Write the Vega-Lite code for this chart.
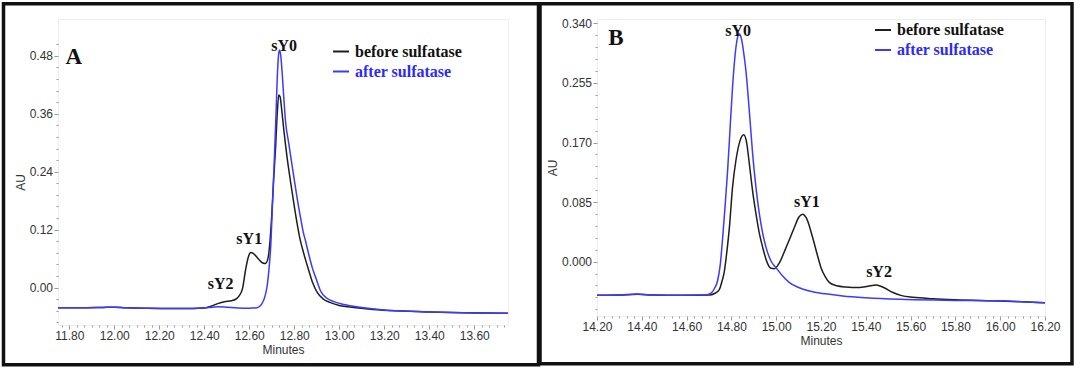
{
  "$schema": "https://vega.github.io/schema/vega-lite/v6.json",
  "background": "white",
  "padding": {"left": 1, "top": 1, "right": 2, "bottom": 2},
  "datasets": {
    "A": [
      {"series":"before sulfatase","t":11.75,"au":-0.0415},{"series":"before sulfatase","t":11.85,"au":-0.0418},{"series":"before sulfatase","t":11.95,"au":-0.0410},{"series":"before sulfatase","t":12.00,"au":-0.0405},{"series":"before sulfatase","t":12.05,"au":-0.0415},{"series":"before sulfatase","t":12.15,"au":-0.0425},{"series":"before sulfatase","t":12.25,"au":-0.0430},{"series":"before sulfatase","t":12.35,"au":-0.0430},{"series":"before sulfatase","t":12.40,"au":-0.0420},{"series":"before sulfatase","t":12.43,"au":-0.0385},{"series":"before sulfatase","t":12.46,"au":-0.0330},{"series":"before sulfatase","t":12.49,"au":-0.0290},{"series":"before sulfatase","t":12.52,"au":-0.0270},{"series":"before sulfatase","t":12.54,"au":-0.0240},{"series":"before sulfatase","t":12.555,"au":-0.0170},{"series":"before sulfatase","t":12.57,"au":-0.0020},{"series":"before sulfatase","t":12.583,"au":0.0350},{"series":"before sulfatase","t":12.595,"au":0.0620},{"series":"before sulfatase","t":12.607,"au":0.0726},{"series":"before sulfatase","t":12.62,"au":0.0700},{"series":"before sulfatase","t":12.64,"au":0.0600},{"series":"before sulfatase","t":12.66,"au":0.0510},{"series":"before sulfatase","t":12.672,"au":0.0500},{"series":"before sulfatase","t":12.683,"au":0.0600},{"series":"before sulfatase","t":12.692,"au":0.0950},{"series":"before sulfatase","t":12.70,"au":0.1500},{"series":"before sulfatase","t":12.708,"au":0.2200},{"series":"before sulfatase","t":12.717,"au":0.2900},{"series":"before sulfatase","t":12.725,"au":0.3650},{"series":"before sulfatase","t":12.731,"au":0.3990},{"series":"before sulfatase","t":12.737,"au":0.3950},{"series":"before sulfatase","t":12.745,"au":0.3650},{"series":"before sulfatase","t":12.754,"au":0.3250},{"series":"before sulfatase","t":12.768,"au":0.2700},{"series":"before sulfatase","t":12.783,"au":0.2210},{"series":"before sulfatase","t":12.798,"au":0.1750},{"series":"before sulfatase","t":12.813,"au":0.1320},{"series":"before sulfatase","t":12.825,"au":0.1020},{"series":"before sulfatase","t":12.835,"au":0.0830},{"series":"before sulfatase","t":12.85,"au":0.0580},{"series":"before sulfatase","t":12.865,"au":0.0350},{"series":"before sulfatase","t":12.882,"au":0.0100},{"series":"before sulfatase","t":12.902,"au":-0.0100},{"series":"before sulfatase","t":12.93,"au":-0.0240},{"series":"before sulfatase","t":12.961,"au":-0.0310},{"series":"before sulfatase","t":13.00,"au":-0.0370},{"series":"before sulfatase","t":13.065,"au":-0.0410},{"series":"before sulfatase","t":13.15,"au":-0.0450},{"series":"before sulfatase","t":13.25,"au":-0.0480},{"series":"before sulfatase","t":13.40,"au":-0.0505},{"series":"before sulfatase","t":13.55,"au":-0.0520},{"series":"before sulfatase","t":13.75,"au":-0.0530},
      {"series":"after sulfatase","t":11.75,"au":-0.0415},{"series":"after sulfatase","t":11.85,"au":-0.0418},{"series":"after sulfatase","t":11.95,"au":-0.0410},{"series":"after sulfatase","t":12.00,"au":-0.0405},{"series":"after sulfatase","t":12.05,"au":-0.0415},{"series":"after sulfatase","t":12.15,"au":-0.0425},{"series":"after sulfatase","t":12.25,"au":-0.0430},{"series":"after sulfatase","t":12.35,"au":-0.0430},{"series":"after sulfatase","t":12.42,"au":-0.0410},{"series":"after sulfatase","t":12.46,"au":-0.0395},{"series":"after sulfatase","t":12.50,"au":-0.0405},{"series":"after sulfatase","t":12.55,"au":-0.0420},{"series":"after sulfatase","t":12.60,"au":-0.0425},{"series":"after sulfatase","t":12.635,"au":-0.0415},{"series":"after sulfatase","t":12.655,"au":-0.0340},{"series":"after sulfatase","t":12.67,"au":-0.0180},{"series":"after sulfatase","t":12.68,"au":0.0050},{"series":"after sulfatase","t":12.688,"au":0.0400},{"series":"after sulfatase","t":12.696,"au":0.0900},{"series":"after sulfatase","t":12.703,"au":0.1700},{"series":"after sulfatase","t":12.711,"au":0.2600},{"series":"after sulfatase","t":12.719,"au":0.3600},{"series":"after sulfatase","t":12.726,"au":0.4500},{"series":"after sulfatase","t":12.731,"au":0.4850},{"series":"after sulfatase","t":12.735,"au":0.4920},{"series":"after sulfatase","t":12.740,"au":0.4800},{"series":"after sulfatase","t":12.747,"au":0.4400},{"series":"after sulfatase","t":12.754,"au":0.3900},{"series":"after sulfatase","t":12.761,"au":0.3456},{"series":"after sulfatase","t":12.775,"au":0.3000},{"series":"after sulfatase","t":12.798,"au":0.2300},{"series":"after sulfatase","t":12.813,"au":0.1850},{"series":"after sulfatase","t":12.828,"au":0.1450},{"series":"after sulfatase","t":12.84,"au":0.1150},{"series":"after sulfatase","t":12.85,"au":0.0970},{"series":"after sulfatase","t":12.865,"au":0.0680},{"series":"after sulfatase","t":12.88,"au":0.0415},{"series":"after sulfatase","t":12.90,"au":0.0150},{"series":"after sulfatase","t":12.917,"au":-0.0070},{"series":"after sulfatase","t":12.945,"au":-0.0220},{"series":"after sulfatase","t":12.976,"au":-0.0290},{"series":"after sulfatase","t":13.02,"au":-0.0350},{"series":"after sulfatase","t":13.10,"au":-0.0410},{"series":"after sulfatase","t":13.20,"au":-0.0460},{"series":"after sulfatase","t":13.35,"au":-0.0495},{"series":"after sulfatase","t":13.50,"au":-0.0515},{"series":"after sulfatase","t":13.75,"au":-0.0530}
    ],
    "B": [
      {"series":"before sulfatase","t":14.20,"au":-0.0480},{"series":"before sulfatase","t":14.30,"au":-0.0478},{"series":"before sulfatase","t":14.38,"au":-0.0466},{"series":"before sulfatase","t":14.45,"au":-0.0478},{"series":"before sulfatase","t":14.55,"au":-0.0480},{"series":"before sulfatase","t":14.65,"au":-0.0480},{"series":"before sulfatase","t":14.70,"au":-0.0478},{"series":"before sulfatase","t":14.725,"au":-0.0455},{"series":"before sulfatase","t":14.746,"au":-0.0400},{"series":"before sulfatase","t":14.758,"au":-0.0280},{"series":"before sulfatase","t":14.768,"au":-0.0150},{"series":"before sulfatase","t":14.78,"au":0.0150},{"series":"before sulfatase","t":14.791,"au":0.0486},{"series":"before sulfatase","t":14.805,"au":0.1060},{"series":"before sulfatase","t":14.82,"au":0.1440},{"series":"before sulfatase","t":14.838,"au":0.1720},{"series":"before sulfatase","t":14.855,"au":0.1810},{"series":"before sulfatase","t":14.868,"au":0.1700},{"series":"before sulfatase","t":14.88,"au":0.1400},{"series":"before sulfatase","t":14.895,"au":0.1000},{"series":"before sulfatase","t":14.91,"au":0.0677},{"series":"before sulfatase","t":14.925,"au":0.0400},{"series":"before sulfatase","t":14.94,"au":0.0200},{"series":"before sulfatase","t":14.958,"au":0.0000},{"series":"before sulfatase","t":14.977,"au":-0.0095},{"series":"before sulfatase","t":14.992,"au":-0.0100},{"series":"before sulfatase","t":15.01,"au":-0.0040},{"series":"before sulfatase","t":15.044,"au":0.0200},{"series":"before sulfatase","t":15.081,"au":0.0486},{"series":"before sulfatase","t":15.10,"au":0.0630},{"series":"before sulfatase","t":15.118,"au":0.0677},{"series":"before sulfatase","t":15.135,"au":0.0620},{"series":"before sulfatase","t":15.163,"au":0.0340},{"series":"before sulfatase","t":15.185,"au":0.0080},{"series":"before sulfatase","t":15.20,"au":-0.0086},{"series":"before sulfatase","t":15.22,"au":-0.0220},{"series":"before sulfatase","t":15.238,"au":-0.0300},{"series":"before sulfatase","t":15.27,"au":-0.0345},{"series":"before sulfatase","t":15.31,"au":-0.0362},{"series":"before sulfatase","t":15.372,"au":-0.0370},{"series":"before sulfatase","t":15.41,"au":-0.0350},{"series":"before sulfatase","t":15.447,"au":-0.0333},{"series":"before sulfatase","t":15.48,"au":-0.0370},{"series":"before sulfatase","t":15.521,"au":-0.0440},{"series":"before sulfatase","t":15.56,"au":-0.0485},{"series":"before sulfatase","t":15.611,"au":-0.0510},{"series":"before sulfatase","t":15.70,"au":-0.0530},{"series":"before sulfatase","t":15.80,"au":-0.0545},{"series":"before sulfatase","t":16.00,"au":-0.0562},{"series":"before sulfatase","t":16.20,"au":-0.0586},
      {"series":"after sulfatase","t":14.20,"au":-0.0480},{"series":"after sulfatase","t":14.30,"au":-0.0475},{"series":"after sulfatase","t":14.38,"au":-0.0462},{"series":"after sulfatase","t":14.45,"au":-0.0478},{"series":"after sulfatase","t":14.55,"au":-0.0480},{"series":"after sulfatase","t":14.65,"au":-0.0478},{"series":"after sulfatase","t":14.69,"au":-0.0472},{"series":"after sulfatase","t":14.709,"au":-0.0450},{"series":"after sulfatase","t":14.725,"au":-0.0380},{"series":"after sulfatase","t":14.738,"au":-0.0276},{"series":"after sulfatase","t":14.75,"au":-0.0050},{"series":"after sulfatase","t":14.761,"au":0.0340},{"series":"after sulfatase","t":14.772,"au":0.0800},{"series":"after sulfatase","t":14.783,"au":0.1296},{"series":"after sulfatase","t":14.795,"au":0.1950},{"series":"after sulfatase","t":14.805,"au":0.2486},{"series":"after sulfatase","t":14.815,"au":0.2900},{"series":"after sulfatase","t":14.826,"au":0.3180},{"series":"after sulfatase","t":14.835,"au":0.3250},{"series":"after sulfatase","t":14.845,"au":0.3180},{"series":"after sulfatase","t":14.855,"au":0.2980},{"series":"after sulfatase","t":14.865,"au":0.2720},{"series":"after sulfatase","t":14.88,"au":0.2150},{"series":"after sulfatase","t":14.895,"au":0.1530},{"series":"after sulfatase","t":14.91,"au":0.1050},{"series":"after sulfatase","t":14.925,"au":0.0677},{"series":"after sulfatase","t":14.94,"au":0.0400},{"series":"after sulfatase","t":14.955,"au":0.0200},{"series":"after sulfatase","t":14.975,"au":0.0020},{"series":"after sulfatase","t":14.999,"au":-0.0086},{"series":"after sulfatase","t":15.03,"au":-0.0210},{"series":"after sulfatase","t":15.059,"au":-0.0300},{"series":"after sulfatase","t":15.10,"au":-0.0370},{"series":"after sulfatase","t":15.148,"au":-0.0420},{"series":"after sulfatase","t":15.22,"au":-0.0460},{"series":"after sulfatase","t":15.297,"au":-0.0490},{"series":"after sulfatase","t":15.40,"au":-0.0515},{"series":"after sulfatase","t":15.551,"au":-0.0537},{"series":"after sulfatase","t":15.75,"au":-0.0550},{"series":"after sulfatase","t":15.998,"au":-0.0560},{"series":"after sulfatase","t":16.20,"au":-0.0586}
    ],
    "peaksA": [
      {"label":"sY0","t":12.755,"au":0.4906},
      {"label":"sY1","t":12.600,"au":0.090},
      {"label":"sY2","t":12.473,"au":-0.0033}
    ],
    "peaksB": [
      {"label":"sY0","t":14.830,"au":0.3224},
      {"label":"sY1","t":15.137,"au":0.0786},
      {"label":"sY2","t":15.459,"au":-0.0219}
    ],
    "letterA": [{"label":"A","t":11.820,"au":0.463}],
    "letterB": [{"label":"B","t":14.284,"au":0.309}]
  },
  "config": {
    "view": {"stroke": "#eeeeee"},
    "axis": {
      "domain": false, "grid": false, "tickColor": "#9a9a9a", "tickWidth": 1, "tickCount": 200,
      "labelFont": "Liberation Sans", "labelFontSize": 12, "labelColor": "#333333",
      "titleFont": "Liberation Sans", "titleFontSize": 12, "titleFontWeight": "normal", "titleColor": "#333333",
      "labelOverlap": false, "labelFlush": false, "labelPadding": 1.5
    },
    "legend": {
      "orient": "none", "title": null, "padding": 0, "strokeWidth": 3.5,
      "symbolType": "stroke", "symbolSize": 256, "symbolStrokeWidth": 2,
      "labelFont": "Liberation Serif", "labelFontWeight": "bold", "labelFontSize": 16,
      "labelOffset": 5, "rowPadding": 3,
      "labelColor": {"expr": "datum.label == 'after sulfatase' ? '#2a2aff' : '#111111'"}
    }
  },
  "resolve": {"scale": {"color": "independent", "shape": "independent"}},
  "spacing": -4,
  "hconcat": [
    {
      "width": 450, "height": 306,
      "layer": [
        {
          "data": {"name": "A"},
          "mark": {"type": "line", "strokeWidth": 1.5, "interpolate": "monotone"},
          "encoding": {
            "x": {"field": "t", "type": "quantitative", "title": "Minutes",
              "scale": {"domain": [11.75, 13.75], "nice": false, "zero": false},
              "axis": {"tickCount": 200, "labelOverlap": false, "values": [11.7667,11.8,11.8333,11.8667,11.9,11.9333,11.9667,12.0,12.0333,12.0667,12.1,12.1333,12.1667,12.2,12.2333,12.2667,12.3,12.3333,12.3667,12.4,12.4333,12.4667,12.5,12.5333,12.5667,12.6,12.6333,12.6667,12.7,12.7333,12.7667,12.8,12.8333,12.8667,12.9,12.9333,12.9667,13.0,13.0333,13.0667,13.1,13.1333,13.1667,13.2,13.2333,13.2667,13.3,13.3333,13.3667,13.4,13.4333,13.4667,13.5,13.5333,13.5667,13.6,13.6333,13.6667,13.7,13.7333],
                "labelExpr": "abs(datum.value*5 - round(datum.value*5)) < 0.01 ? format(datum.value, '.2f') : ''",
                "tickSize": {"condition": {"test": "abs(datum.value*5 - round(datum.value*5)) < 0.01", "value": 4}, "value": 2},
                "titlePadding": 3}},
            "y": {"field": "au", "type": "quantitative", "title": "AU",
              "scale": {"domain": [-0.0773, 0.5561], "nice": false, "zero": false},
              "axis": {"tickCount": 200, "labelOverlap": false, "values": [-0.072,-0.048,-0.024,0,0.024,0.048,0.072,0.096,0.12,0.144,0.168,0.192,0.216,0.24,0.264,0.288,0.312,0.336,0.36,0.384,0.408,0.432,0.456,0.48,0.504],
                "labelExpr": "abs(datum.value/0.12 - round(datum.value/0.12)) < 0.01 ? format(datum.value, '.2f') : ''",
                "tickSize": {"condition": {"test": "abs(datum.value/0.12 - round(datum.value/0.12)) < 0.01", "value": 4}, "value": 2},
                "titlePadding": 2, "titleY": 163}},
            "color": {"field": "series", "type": "nominal",
              "scale": {"domain": ["before sulfatase", "after sulfatase"], "range": ["#1e1e1e", "#3b3bff"]},
              "legend": {"legendX": 274, "legendY": 23.5}}
          }
        },
        {
          "data": {"name": "peaksA"},
          "mark": {"type": "text", "font": "Liberation Serif", "fontWeight": "bold", "fontSize": 16, "baseline": "alphabetic", "align": "center", "color": "#111111"},
          "encoding": {
            "x": {"field": "t", "type": "quantitative"},
            "y": {"field": "au", "type": "quantitative"},
            "text": {"field": "label"}
          }
        },
        {
          "data": {"name": "letterA"},
          "mark": {"type": "text", "font": "Liberation Serif", "fontWeight": "bold", "fontSize": 23, "baseline": "alphabetic", "align": "center", "color": "#111111"},
          "encoding": {
            "x": {"field": "t", "type": "quantitative"},
            "y": {"field": "au", "type": "quantitative"},
            "text": {"field": "label"}
          }
        },
        {
          "data": {"name": "letterA"},
          "mark": {"type": "point", "opacity": 0},
          "encoding": {
            "x": {"field": "t", "type": "quantitative"},
            "y": {"field": "au", "type": "quantitative"},
            "shape": {"field": "label", "type": "nominal", "scale": {"range": ["square"]},
              "legend": {"orient": "none", "legendX": -54.5, "legendY": -15.3, "padding": 5,
                "strokeColor": "#111111", "symbolType": "square",
                "symbolSize": 123201, "symbolOpacity": 0, "symbolStrokeWidth": 0,
                "labelExpr": "''", "labelOffset": 173.5}}
          }
        }
      ]
    },
    {
      "width": 448, "height": 297,
      "layer": [
        {
          "data": {"name": "B"},
          "mark": {"type": "line", "strokeWidth": 1.5, "interpolate": "monotone"},
          "encoding": {
            "x": {"field": "t", "type": "quantitative", "title": "Minutes",
              "scale": {"domain": [14.2, 16.2], "nice": false, "zero": false},
              "axis": {"tickCount": 200, "labelOverlap": false, "values": [14.2,14.2333,14.2667,14.3,14.3333,14.3667,14.4,14.4333,14.4667,14.5,14.5333,14.5667,14.6,14.6333,14.6667,14.7,14.7333,14.7667,14.8,14.8333,14.8667,14.9,14.9333,14.9667,15.0,15.0333,15.0667,15.1,15.1333,15.1667,15.2,15.2333,15.2667,15.3,15.3333,15.3667,15.4,15.4333,15.4667,15.5,15.5333,15.5667,15.6,15.6333,15.6667,15.7,15.7333,15.7667,15.8,15.8333,15.8667,15.9,15.9333,15.9667,16.0,16.0333,16.0667,16.1,16.1333,16.1667,16.2],
                "labelExpr": "abs(datum.value*5 - round(datum.value*5)) < 0.01 ? format(datum.value, '.2f') : ''",
                "tickSize": {"condition": {"test": "abs(datum.value*5 - round(datum.value*5)) < 0.01", "value": 4}, "value": 2},
                "titlePadding": 3}},
            "y": {"field": "au", "type": "quantitative", "title": "AU",
              "scale": {"domain": [-0.0776, 0.3463], "nice": false, "zero": false},
              "axis": {"tickCount": 200, "labelOverlap": false, "values": [-0.068,-0.051,-0.034,-0.017,0,0.017,0.034,0.051,0.068,0.085,0.102,0.119,0.136,0.153,0.17,0.187,0.204,0.221,0.238,0.255,0.272,0.289,0.306,0.323,0.34],
                "labelExpr": "abs(datum.value/0.085 - round(datum.value/0.085)) < 0.01 ? format(datum.value, '.3f') : ''",
                "tickSize": {"condition": {"test": "abs(datum.value/0.085 - round(datum.value/0.085)) < 0.01", "value": 4}, "value": 2},
                "titlePadding": 2}},
            "color": {"field": "series", "type": "nominal",
              "scale": {"domain": ["before sulfatase", "after sulfatase"], "range": ["#1e1e1e", "#3b3bff"]},
              "legend": {"legendX": 277, "legendY": 2}}
          }
        },
        {
          "data": {"name": "peaksB"},
          "mark": {"type": "text", "font": "Liberation Serif", "fontWeight": "bold", "fontSize": 16, "baseline": "alphabetic", "align": "center", "color": "#111111"},
          "encoding": {
            "x": {"field": "t", "type": "quantitative"},
            "y": {"field": "au", "type": "quantitative"},
            "text": {"field": "label"}
          }
        },
        {
          "data": {"name": "letterB"},
          "mark": {"type": "text", "font": "Liberation Serif", "fontWeight": "bold", "fontSize": 23, "baseline": "alphabetic", "align": "center", "color": "#111111"},
          "encoding": {
            "x": {"field": "t", "type": "quantitative"},
            "y": {"field": "au", "type": "quantitative"},
            "text": {"field": "label"}
          }
        },
        {
          "data": {"name": "letterB"},
          "mark": {"type": "point", "opacity": 0},
          "encoding": {
            "x": {"field": "t", "type": "quantitative"},
            "y": {"field": "au", "type": "quantitative"},
            "shape": {"field": "label", "type": "nominal", "scale": {"range": ["square"]},
              "legend": {"orient": "none", "legendX": -57, "legendY": -15.3, "padding": 5,
                "strokeColor": "#111111", "symbolType": "square",
                "symbolSize": 122500, "symbolOpacity": 0, "symbolStrokeWidth": 0,
                "labelExpr": "''", "labelOffset": 172}}
          }
        }
      ]
    }
  ]
}
